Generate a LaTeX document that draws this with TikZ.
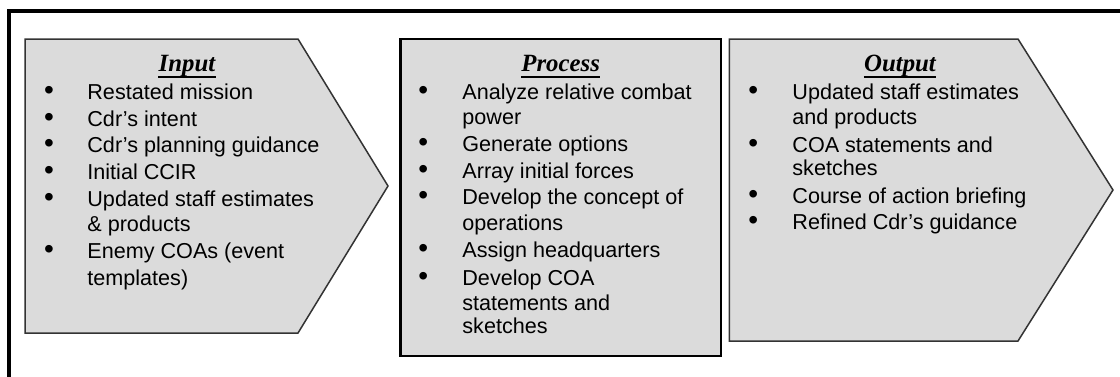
\documentclass[tikz,border=0pt]{standalone}
\usepackage{fontspec}
\setmainfont{Liberation Sans}
\newfontfamily\headfont{Liberation Serif}
\usetikzlibrary{positioning}

\begin{document}
\begin{tikzpicture}[x=0.5pt,y=0.5pt]
\tikzset{every node/.style={inner sep=0pt, font=\fontsize{10.8}{13}\selectfont},
  phase/.style={fill=black!14, draw=black!80, line width=0.75pt, line join=miter},
  heading/.style={font=\headfont\fontsize{12.4}{14}\selectfont\bfseries\itshape, anchor=base},
  headline/.style={line width=1pt},
  entry/.style={anchor=base west},
  dot/.style={anchor=center, yshift=3.2pt, font=\fontsize{14}{14}\selectfont}}
\useasboundingbox (0,0) rectangle (1120,376);
\clip (0,0) rectangle (1120,376);
\fill [white] (0,0) rectangle (1120,376);
% frame
\draw [line width=2pt] (9.3,-20) -- (9.3,364.7) -- (1140,364.7);
% input
\draw [phase] (25,337) -- (298,337) -- (388,190) -- (298,43) -- (25,43) -- cycle;
\node [heading] (intitle) at (187,305) {Input};
\draw [headline] ([yshift=-3pt]intitle.base west) -- ([yshift=-3pt]intitle.base east);
\node [dot] (inb1) at (49,276.7) {•};
\node [entry] (in1) at (87,276.7) {Restated mission};
\node [dot] (inb2) at (49,249.7) {•};
\node [entry] (in2) at (87,249.7) {Cdr’s intent};
\node [dot] (inb3) at (49,223.3) {•};
\node [entry] (in3) at (87,223.3) {Cdr’s planning guidance};
\node [dot] (inb4) at (49,196.7) {•};
\node [entry] (in4) at (87,196.7) {Initial CCIR};
\node [dot] (inb5) at (49,170) {•};
\node [entry] (in5) at (87,170) {Updated staff estimates};
\node [entry] (in5b) at (87,144.3) {\& products};
\node [dot] (inb6) at (49,117.7) {•};
\node [entry] (in6) at (87,117.7) {Enemy COAs (event};
\node [entry] (in6b) at (87,91) {templates)};
% process
\draw [fill=black!14, line width=1.25pt] (400.7,337) rectangle (721,20);
\node [heading] (prtitle) at (560.7,305) {Process};
\draw [headline] ([yshift=-3pt]prtitle.base west) -- ([yshift=-3pt]prtitle.base east);
\node [dot] (prb1) at (423.3,277) {•};
\node [entry] (pr1) at (462,277) {Analyze relative combat};
\node [entry] (pr1b) at (462,252) {power};
\node [dot] (prb2) at (423.3,224.3) {•};
\node [entry] (pr2) at (462,224.3) {Generate options};
\node [dot] (prb3) at (423.3,198) {•};
\node [entry] (pr3) at (462,198) {Array initial forces};
\node [dot] (prb4) at (423.3,172) {•};
\node [entry] (pr4) at (462,172) {Develop the concept of};
\node [entry] (pr4b) at (462,146) {operations};
\node [dot] (prb5) at (423.3,119) {•};
\node [entry] (pr5) at (462,119) {Assign headquarters};
\node [dot] (prb6) at (423.3,91) {•};
\node [entry] (pr6) at (462,91) {Develop COA};
\node [entry] (pr6b) at (462,66) {statements and};
\node [entry] (pr6c) at (462,43) {sketches};
% output
\draw [phase] (729.3,337) -- (1018,337) -- (1113,186) -- (1018,35) -- (729.3,35) -- cycle;
\node [heading] (outtitle) at (900,305) {Output};
\draw [headline] ([yshift=-3pt]outtitle.base west) -- ([yshift=-3pt]outtitle.base east);
\node [dot] (outb1) at (753.3,277) {•};
\node [entry] (out1) at (792,277) {Updated staff estimates};
\node [entry] (out1b) at (792,252) {and products};
\node [dot] (outb2) at (753.3,224) {•};
\node [entry] (out2) at (792,224) {COA statements and};
\node [entry] (out2b) at (792,201) {sketches};
\node [dot] (outb3) at (753.3,173) {•};
\node [entry] (out3) at (792,173) {Course of action briefing};
\node [dot] (outb4) at (753.3,147) {•};
\node [entry] (out4) at (792,147) {Refined Cdr’s guidance};
\end{tikzpicture}
\end{document}
